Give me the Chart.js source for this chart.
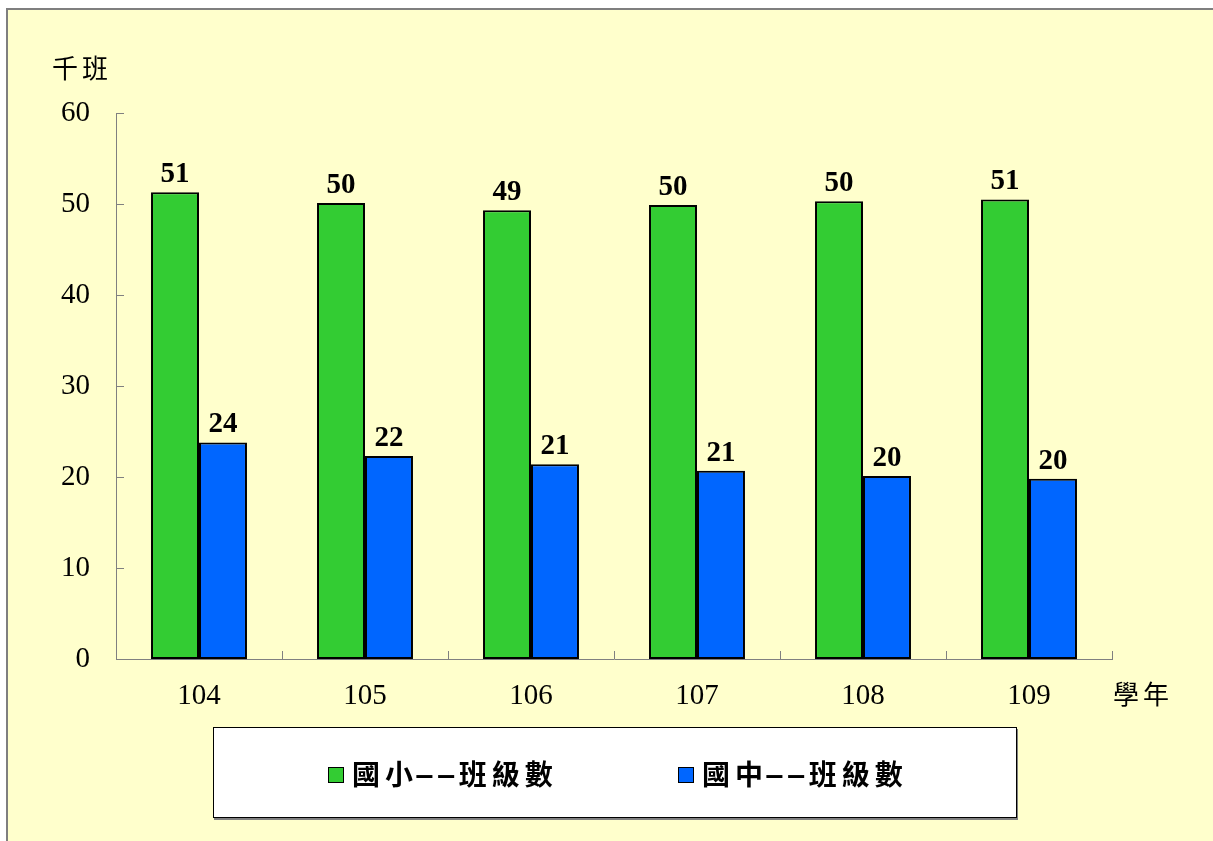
<!DOCTYPE html>
<html>
<head>
<meta charset="utf-8">
<script src="https://cdn.jsdelivr.net/npm/chart.js@4/dist/chart.umd.min.js"></script>
<style>
    html, body { margin: 0; padding: 0; background: #ffffff; }
    .frame {
        position: absolute; left: 6px; top: 8px; width: 1260px; height: 900px;
        background: #ffffcc; border-left: 2px solid #7f7f7f; border-top: 2px solid #7f7f7f;
    }
    #wrap { position: absolute; left: 0; top: 0; width: 1213px; height: 841px; }
    .legend {
        position: absolute; left: 213px; top: 727px; width: 802px; height: 89px;
        background: #ffffff; border: 1px solid #000000;
        box-shadow: 1px 2px 0 #808080;
        font: 700 28px 'Noto Sans CJK TC', sans-serif; color: #000;
        letter-spacing: 5px;
    }
    .legend .item { position: absolute; top: 27px; height: 36px; line-height: 36px; white-space: nowrap; }
    .legend .dash { display: inline-block; letter-spacing: 0; transform: scaleX(2.1); margin: 0 13px 0 7px; }
    .legend .sw {
        display: inline-block; width: 14px; height: 14px; border: 1.5px solid #000;
        vertical-align: middle; margin-right: 8px; position: relative; top: -2px;
    }
</style>
</head>
<body>
<div class="frame"></div>
<div id="wrap"><canvas id="c" width="1213" height="841"></canvas></div>
<div class="legend">
    <div class="item" style="left:114px"><span class="sw" style="background:#33cc33"></span>國小<span class="dash">--</span>班級數</div>
    <div class="item" style="left:464px"><span class="sw" style="background:#0066ff"></span>國中<span class="dash">--</span>班級數</div>
</div>
<script>
(function () {
    'use strict';

    var years = ['104', '105', '106', '107', '108', '109'];
    var elementary = [51.3, 50.1, 49.3, 49.9, 50.3, 50.5];
    var junior = [23.8, 22.3, 21.4, 20.7, 20.1, 19.8];
    var yTicks = [0, 10, 20, 30, 40, 50, 60];

    var SERIF = "'Liberation Serif', 'Times New Roman', serif";
    var CJK = "'Noto Sans CJK TC', sans-serif";

    function spaced(ctx, text, x, y, gap) {
        // draw CJK text with a little extra space between glyphs
        for (var i = 0; i < text.length; i++) {
            ctx.fillText(text[i], x, y);
            x += ctx.measureText(text[i]).width + gap;
        }
    }

    var innerTicks = {
        id: 'innerTicks',
        afterDraw: function (chart) {
            var ctx = chart.ctx;
            var x = chart.scales.x, y = chart.scales.y;
            var area = chart.chartArea;
            var step = x.getPixelForValue(1) - x.getPixelForValue(0);
            ctx.save();
            ctx.strokeStyle = '#808080';
            ctx.lineWidth = 1;
            ctx.beginPath();
            yTicks.forEach(function (v) {
                var py = Math.round(y.getPixelForValue(v)) + 0.5;
                ctx.moveTo(area.left, py);
                ctx.lineTo(area.left + 8, py);
            });
            for (var i = 0; i < years.length; i++) {
                var px = Math.round(x.getPixelForValue(i) + step / 2) + 0.5;
                ctx.moveTo(px, area.bottom);
                ctx.lineTo(px, area.bottom - 8);
            }
            ctx.stroke();

            ctx.fillStyle = '#000';
            ctx.font = '400 26px ' + CJK;
            ctx.textBaseline = 'middle';
            ctx.textAlign = 'left';
            spaced(ctx, '千班', 52, 68, 4);
            spaced(ctx, '學年', 1113, 694, 4);
            ctx.restore();
        }
    };

    var barLabels = {
        id: 'barLabels',
        afterDatasetsDraw: function (chart) {
            var ctx = chart.ctx;
            ctx.save();
            ctx.font = '700 29px ' + SERIF;
            ctx.fillStyle = '#000';
            ctx.textAlign = 'center';
            ctx.textBaseline = 'bottom';
            chart.data.datasets.forEach(function (ds, di) {
                chart.getDatasetMeta(di).data.forEach(function (bar, i) {
                    ctx.fillText(String(Math.round(ds.data[i])), bar.x, bar.y - 3);
                });
            });
            ctx.restore();
        }
    };

    new Chart(document.getElementById('c'), {
        type: 'bar',
        data: {
            labels: years,
            datasets: [{
                label: '國小--班級數',
                data: elementary,
                backgroundColor: '#33cc33',
                borderColor: '#000000',
                borderWidth: 2,
                borderSkipped: false
            }, {
                label: '國中--班級數',
                data: junior,
                backgroundColor: '#0066ff',
                borderColor: '#000000',
                borderWidth: 2,
                borderSkipped: false
            }]
        },
        options: {
            responsive: false,
            animation: false,
            events: [],
            layout: { padding: { left: 0, top: 113, right: 101, bottom: 0 } },
            datasets: { bar: { categoryPercentage: 0.578, barPercentage: 1 } },
            plugins: { legend: { display: false }, tooltip: { enabled: false } },
            scales: {
                x: {
                    grid: { display: false, drawTicks: false },
                    border: { display: true, color: '#808080', width: 1 },
                    ticks: { color: '#000', padding: 20, font: { family: SERIF, size: 29 } },
                    afterFit: function (s) { s.height = 182; }
                },
                y: {
                    min: 0, max: 60,
                    grid: { display: false, drawTicks: false },
                    border: { display: true, color: '#808080', width: 1 },
                    ticks: { stepSize: 10, color: '#000', padding: 26, font: { family: SERIF, size: 29 } },
                    afterFit: function (s) { s.width = 116; }
                }
            }
        },
        plugins: [innerTicks, barLabels]
    });
})();
</script>
</body>
</html>
